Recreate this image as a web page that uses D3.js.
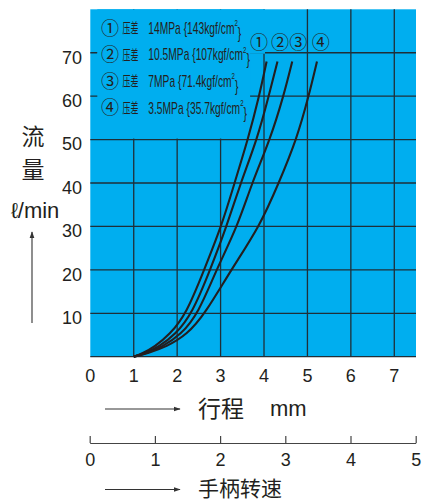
<!DOCTYPE html>
<html><head><meta charset="utf-8">
<script src="https://cdn.jsdelivr.net/npm/d3@7/dist/d3.min.js"></script>
<style>html,body{margin:0;padding:0;background:#fff;}svg{display:block;}</style>
</head><body>
<svg id="c" width="423" height="504"></svg>
<script>
// ---- data ----
const flowLevels = [0, 0.8, 2.3, 5, 10, 20, 30, 40, 50, 60, 68];
const stroke1 = [1, 1.21, 1.48, 1.82, 2.22, 2.62, 3.02, 3.32, 3.63, 3.89, 4.06];
const stroke2 = [1, 1.25, 1.58, 1.95, 2.35, 2.76, 3.14, 3.46, 3.84, 4.11, 4.31];
const stroke3 = [1, 1.29, 1.66, 2.08, 2.49, 2.90, 3.39, 3.72, 4.14, 4.45, 4.65];
const stroke4 = [1, 1.33, 1.75, 2.22, 2.65, 3.24, 3.90, 4.34, 4.75, 5.03, 5.22];
const seriesMarks = ["①", "②", "③", "④"];
const legendPressure = ["14MPa {143kgf/cm", "10.5MPa {107kgf/cm", "7MPa {71.4kgf/cm", "3.5MPa {35.7kgf/cm"];
const xTicks = [0, 1, 2, 3, 4, 5, 6, 7];
const yTicks = [10, 20, 30, 40, 50, 60, 70];
const turnTicks = [0, 1, 2, 3, 4, 5];

const svg = d3.select("#c");
const BLUE = "#00aeef", GRID = "#1f2f38", INK = "#231f20";
const x = d3.scaleLinear().domain([0, 7.5]).range([90.3, 416]);
const y = d3.scaleLinear().domain([0, 80]).range([356.7, 9.3]);
const xt = d3.scaleLinear().domain([0, 5]).range([89.7, 415.7]);

svg.append("defs").append("marker").attr("id", "ah").attr("viewBox", "0 0 10 10")
  .attr("refX", 9).attr("refY", 5).attr("markerWidth", 7).attr("markerHeight", 7)
  .attr("markerUnits", "userSpaceOnUse").attr("orient", "auto")
  .append("path").attr("d", "M0,1.5L10,5L0,8.5Z").attr("fill", "#333");

// plot background
svg.append("rect").attr("x", x(0)).attr("y", y(80)).attr("width", x(7.5) - x(0)).attr("height", y(0) - y(80)).attr("fill", BLUE);

// grid
const g = svg.append("g").attr("stroke", GRID).attr("stroke-width", 1.3);
xTicks.filter(d => d > 0).forEach(d => g.append("line").attr("x1", x(d)).attr("x2", x(d)).attr("y1", y(80)).attr("y2", y(0)));
yTicks.forEach(d => g.append("line").attr("x1", x(0)).attr("x2", x(7.5)).attr("y1", y(d)).attr("y2", y(d)));
g.append("line").attr("x1", x(0)).attr("x2", x(7.5)).attr("y1", y(0)).attr("y2", y(0));

// legend masks
svg.append("rect").attr("x", x(0) + 7).attr("y", y(80)).attr("width", x(4) + 1 - x(0) - 7).attr("height", y(70) + 1 - y(80)).attr("fill", BLUE);
svg.append("rect").attr("x", x(0) + 7).attr("y", y(70)).attr("width", x(3.68) - x(0) - 7).attr("height", y(50) - 1 - y(70)).attr("fill", BLUE);

// curves
const line = d3.line().x(d => x(d[0])).y(d => y(d[1])).curve(d3.curveBasis);
[stroke1, stroke2, stroke3, stroke4].forEach(s => {
  svg.append("path").attr("d", line(s.map((v, i) => [v, flowLevels[i]])))
    .attr("fill", "none").attr("stroke", INK).attr("stroke-width", 2.1);
});

// curve labels
const labelX = [259, 280, 298.3, 320.7];
seriesMarks.forEach((m, i) => {
  svg.append("text").attr("x", labelX[i]).attr("y", 42.7).attr("dy", "0.36em").attr("text-anchor", "middle")
    .attr("font-family", "Noto Sans CJK SC").attr("font-size", 18).attr("fill", INK).text(m);
});

// legend
const rowY = [28.3, 54.5, 81.2, 107.8];
let sc = null;
legendPressure.forEach((t, i) => {
  svg.append("text").attr("x", 110).attr("y", rowY[i]).attr("dy", "0.36em").attr("text-anchor", "middle")
    .attr("font-family", "Noto Sans CJK SC").attr("font-size", 18).attr("fill", INK).text(seriesMarks[i]);
  const gp = svg.append("g").attr("transform", `translate(122.5,${rowY[i]}) scale(0.57,1)`);
  gp.append("text").attr("dy", "0.36em").attr("font-family", "Noto Sans CJK SC").attr("font-size", 14)
    .attr("fill", INK).text("压差");
  const gv = svg.append("g");
  const tx = gv.append("text").attr("dy", "0.36em").attr("font-family", "Liberation Sans, Arial, sans-serif")
    .attr("font-size", 16).attr("fill", INK);
  tx.append("tspan").text(t);
  tx.append("tspan").attr("font-size", 9.5).attr("dy", "-0.8em").text("2");
  tx.append("tspan").attr("dy", "0.8em").attr("font-size", 16).text("}");
  if (sc === null) sc = 93.4 / tx.node().getBBox().width;
  gv.attr("transform", `translate(148.3,${rowY[i]}) scale(${sc},1)`);
});

// tick labels
const font = "Liberation Sans, Arial, sans-serif";
xTicks.forEach(d => svg.append("text").attr("x", x(d)).attr("y", 381.8).attr("text-anchor", "middle")
  .attr("font-family", font).attr("font-size", 18).attr("fill", INK).text(d));
yTicks.forEach(d => svg.append("text").attr("x", 82).attr("y", y(d) + 4.5).attr("dy", "0.35em").attr("text-anchor", "end")
  .attr("font-family", font).attr("font-size", 18).attr("fill", INK).text(d));

// y title
svg.append("text").attr("x", 33).attr("y", 136).attr("dy", "0.38em").attr("text-anchor", "middle")
  .attr("font-family", "Noto Sans CJK SC").attr("font-size", 23).attr("fill", INK).text("流");
svg.append("text").attr("x", 33).attr("y", 169).attr("dy", "0.38em").attr("text-anchor", "middle")
  .attr("font-family", "Noto Sans CJK SC").attr("font-size", 23).attr("fill", INK).text("量");
svg.append("text").attr("x", 35).attr("y", 218).attr("text-anchor", "middle")
  .attr("font-family", font).attr("font-size", 22).attr("fill", INK).text("ℓ/min");
svg.append("line").attr("x1", 32).attr("x2", 32).attr("y1", 323).attr("y2", 232)
  .attr("stroke", "#444").attr("stroke-width", 1.2).attr("marker-end", "url(#ah)");

// x title
svg.append("line").attr("x1", 105).attr("x2", 180).attr("y1", 409).attr("y2", 409)
  .attr("stroke", "#333").attr("stroke-width", 1.1).attr("marker-end", "url(#ah)");
svg.append("text").attr("x", 198).attr("y", 408).attr("dy", "0.38em")
  .attr("font-family", "Noto Sans CJK SC").attr("font-size", 23).attr("fill", INK).text("行程");
svg.append("text").attr("x", 270).attr("y", 408).attr("dy", "0.36em")
  .attr("font-family", font).attr("font-size", 22).attr("fill", INK).text("mm");

// handle turns axis
const ax = svg.append("g").attr("transform", "translate(0,443)")
  .call(d3.axisBottom(xt).tickValues(turnTicks).tickSizeInner(-7).tickSizeOuter(0).tickPadding(10.5).tickFormat(d3.format("d")));
ax.select(".domain").attr("stroke", "#444").attr("stroke-width", 1.2);
ax.selectAll(".tick line").attr("stroke", "#444").attr("stroke-width", 1.2);
ax.selectAll(".tick text").attr("font-family", font).attr("font-size", 18).attr("fill", INK);

svg.append("line").attr("x1", 105).attr("x2", 180).attr("y1", 489.5).attr("y2", 489.5)
  .attr("stroke", "#333").attr("stroke-width", 1.1).attr("marker-end", "url(#ah)");
svg.append("text").attr("x", 198).attr("y", 488.5).attr("dy", "0.36em")
  .attr("font-family", "Noto Sans CJK SC").attr("font-size", 21).attr("fill", INK).text("手柄转速");
</script>
</body></html>
